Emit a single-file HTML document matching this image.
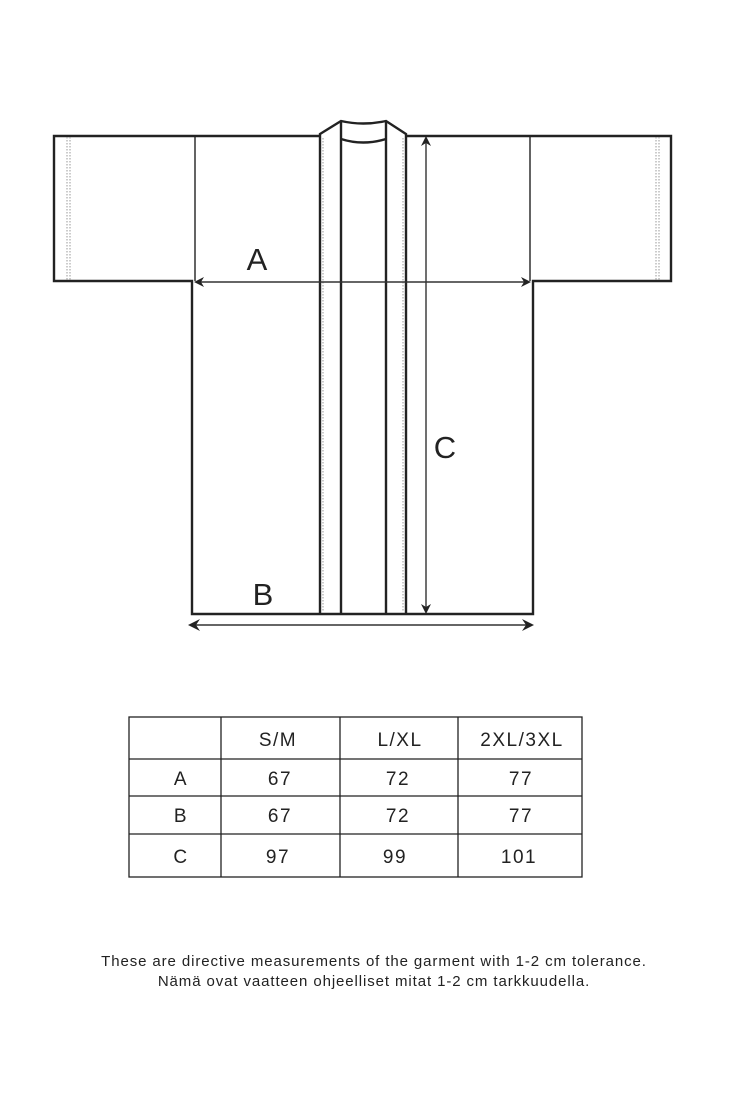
<!DOCTYPE html>
<html><head><style>
html,body{margin:0;padding:0;background:#fff;}
svg{display:block}
text{font-family:"Liberation Sans",sans-serif;fill:#222}
</style></head><body>
<svg width="749" height="1119" viewBox="0 0 749 1119" xmlns="http://www.w3.org/2000/svg">
<g fill="none" stroke="#222" stroke-width="2.4">
<path d="M320,136 L54,136 L54,281 L192,281 L192,614 L533,614 L533,281 L671,281 L671,136 L406,136"/>
<line x1="195" y1="136" x2="195" y2="281" stroke-width="1.4"/>
<line x1="530" y1="136" x2="530" y2="281" stroke-width="1.4"/>
<path d="M320,614 L320,134 L341,121 Q363,126 386,121 L406,134 L406,614"/>
<line x1="341" y1="121" x2="341" y2="614"/>
<line x1="386" y1="121" x2="386" y2="614"/>
<path d="M341,139 Q363,146 386,139"/>
</g>
<g stroke="#999" stroke-width="1" stroke-dasharray="1.5,1.5">
<line x1="67" y1="137" x2="67" y2="280"/><line x1="70" y1="137" x2="70" y2="280"/>
<line x1="656" y1="137" x2="656" y2="280"/><line x1="659" y1="137" x2="659" y2="280"/>
<line x1="323" y1="138" x2="323" y2="612"/>
<line x1="403" y1="138" x2="403" y2="612"/>
</g>
<g stroke="#333" stroke-width="1.4" fill="#222">
<line x1="198" y1="282" x2="527" y2="282"/>
<path d="M194,282 l10,-5 l-3,5 l3,5z" stroke="none"/>
<path d="M531,282 l-10,-5 l3,5 l-3,5z" stroke="none"/>
<line x1="426" y1="140" x2="426" y2="610"/>
<path d="M426,136 l-5,10 l5,-3 l5,3z" stroke="none"/>
<path d="M426,614 l-5,-10 l5,3 l5,-3z" stroke="none"/>
<line x1="192" y1="625" x2="530" y2="625"/>
<path d="M188,625 l12,-6 l-4,6 l4,6z" stroke="none"/>
<path d="M534,625 l-12,-6 l4,6 l-4,6z" stroke="none"/>
</g>
<text x="257" y="270" font-size="31" text-anchor="middle">A</text>
<text x="445" y="458" font-size="31" text-anchor="middle">C</text>
<text x="263" y="605" font-size="31" text-anchor="middle">B</text>
<g stroke="#222" stroke-width="1.3" fill="none">
<rect x="129" y="717" width="453" height="160"/>
<line x1="221" y1="717" x2="221" y2="877"/>
<line x1="340" y1="717" x2="340" y2="877"/>
<line x1="458" y1="717" x2="458" y2="877"/>
<line x1="129" y1="759" x2="582" y2="759"/>
<line x1="129" y1="796" x2="582" y2="796"/>
<line x1="129" y1="834" x2="582" y2="834"/>
</g>
<g font-size="19" text-anchor="middle" letter-spacing="1.5">
<text x="278" y="746">S/M</text><text x="400" y="746">L/XL</text><text x="522" y="746">2XL/3XL</text>
<text x="181" y="785">A</text><text x="280" y="785">67</text><text x="398" y="785">72</text><text x="521" y="785">77</text>
<text x="181" y="822">B</text><text x="280" y="822">67</text><text x="398" y="822">72</text><text x="521" y="822">77</text>
<text x="181" y="863">C</text><text x="278" y="863">97</text><text x="395" y="863">99</text><text x="519" y="863">101</text>
</g>
<g font-size="15" text-anchor="middle" letter-spacing="0.9">
<text x="374" y="966">These are directive measurements of the garment with 1-2 cm tolerance.</text>
<text x="374" y="986">Nämä ovat vaatteen ohjeelliset mitat 1-2 cm tarkkuudella.</text>
</g>
</svg>
</body></html>
